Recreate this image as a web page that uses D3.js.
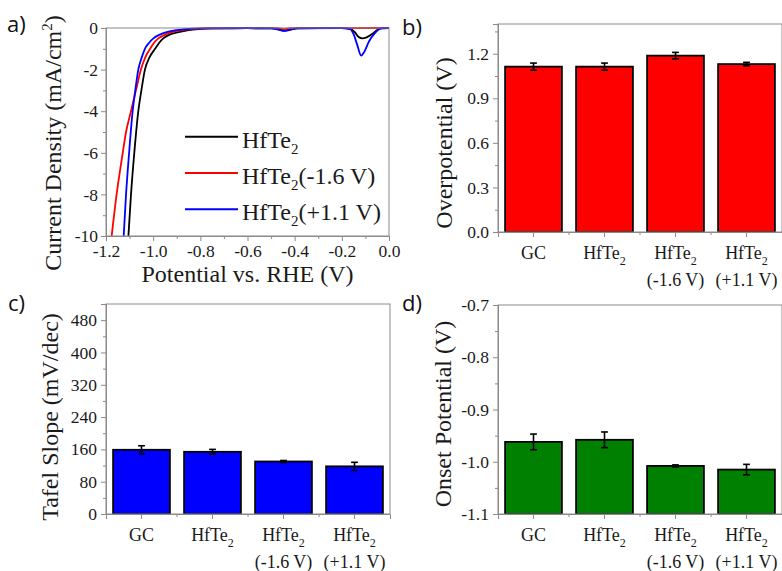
<!DOCTYPE html>
<html>
<head>
<meta charset="utf-8">
<script src="https://cdn.jsdelivr.net/npm/d3@7"></script>
<style>
  html, body { margin: 0; padding: 0; background: #fff; }
  svg { display: block; }
  text.serif { font-family: "Liberation Serif", "Times New Roman", serif; fill: #1a1a1a; }
  text.panel-label { font-family: "Open Sans", "Noto Sans", sans-serif; font-size: 22px; fill: #111; }
</style>
</head>
<body>
<svg id="fig" width="782" height="571"></svg>
<script>
// ---- Polarization curves (potential V vs RHE, current density mA/cm2) ----
const lsvHfTe2 = [
  [-1.105, -10], [-1.094, -8], [-1.080, -6], [-1.063, -4], [-1.050, -3], [-1.035, -2],
  [-1.015, -1.4], [-0.992, -1.0], [-0.975, -0.72], [-0.957, -0.5], [-0.930, -0.32],
  [-0.893, -0.2], [-0.850, -0.1], [-0.809, -0.05], [-0.750, -0.02], [-0.600, -0.01],
  [-0.500, -0.02], [-0.470, -0.06], [-0.445, -0.12], [-0.420, -0.08], [-0.390, -0.02],
  [-0.300, -0.01], [-0.200, -0.01], [-0.165, -0.03], [-0.145, -0.2], [-0.130, -0.42],
  [-0.112, -0.5], [-0.095, -0.45], [-0.070, -0.28], [-0.050, -0.1], [-0.035, -0.02], [0.0, 0.0]
];
const lsvNeg16 = [
  [-1.176, -10], [-1.155, -8], [-1.129, -6], [-1.115, -5], [-1.094, -4], [-1.073, -3],
  [-1.052, -2], [-1.033, -1.4], [-1.013, -1.0], [-0.997, -0.72], [-0.978, -0.5],
  [-0.950, -0.32], [-0.921, -0.2], [-0.880, -0.1], [-0.837, -0.05], [-0.780, -0.02],
  [-0.600, -0.01], [-0.470, -0.01], [-0.445, -0.05], [-0.420, -0.01], [-0.200, -0.005], [0.0, 0.0]
];
const lsvPos11 = [
  [-1.125, -10], [-1.115, -8], [-1.102, -6], [-1.087, -4], [-1.076, -3], [-1.063, -2],
  [-1.048, -1.4], [-1.035, -1.0], [-1.018, -0.72], [-0.999, -0.5], [-0.972, -0.32],
  [-0.943, -0.2], [-0.900, -0.1], [-0.865, -0.05], [-0.800, -0.02], [-0.600, -0.01],
  [-0.500, -0.02], [-0.470, -0.07], [-0.445, -0.14], [-0.420, -0.09], [-0.390, -0.02],
  [-0.200, -0.01], [-0.165, -0.05], [-0.150, -0.3], [-0.135, -0.8], [-0.118, -1.33],
  [-0.105, -1.15], [-0.085, -0.65], [-0.060, -0.25], [-0.040, -0.05], [-0.025, -0.01], [0.0, 0.0]
];
const lsvSeriesNames = ["HfTe2", "HfTe2(-1.6 V)", "HfTe2(+1.1 V)"];
const lsvColors = ["#000000", "#ff0000", "#0000ff"];
const lsvXTicks = [-1.2, -1.0, -0.8, -0.6, -0.4, -0.2, 0.0];
const lsvXMinor = [-1.1, -0.9, -0.7, -0.5, -0.3, -0.1];
const lsvYTicks = [-10, -8, -6, -4, -2, 0];
const lsvYMinor = [-9, -7, -5, -3, -1];

// ---- Electrode summaries ----
const categories = ["GC", "HfTe2", "HfTe2 (-1.6 V)", "HfTe2 (+1.1 V)"];

const overpotential = [1.113, 1.113, 1.187, 1.130];
const overpotentialErr = [0.024, 0.024, 0.022, 0.012];
const overpotentialTicks = [0.0, 0.3, 0.6, 0.9, 1.2];
const overpotentialMinor = [0.15, 0.45, 0.75, 1.05, 1.35];

const tafelSlope = [159, 154, 130, 118];
const tafelSlopeErr = [10, 6, 2.5, 10];
const tafelTicks = [0, 80, 160, 240, 320, 400, 480];
const tafelMinor = [40, 120, 200, 280, 360, 440, 520];

const onsetPotential = [-0.962, -0.958, -1.008, -1.015];
const onsetPotentialErr = [0.015, 0.015, 0.002, 0.010];
const onsetTicks = [-1.1, -1.0, -0.9, -0.8, -0.7];
const onsetMinor = [-1.05, -0.95, -0.85, -0.75];

const svg = d3.select("#fig");
const FRAME = "#8a8a8a";
const SERIF = "'Liberation Serif', 'Times New Roman', serif";

// Writes "HfTe2..." with the 2 as a subscript into a text selection
function chemLabel(sel, label, subSize) {
  const m = label.match(/^(.*?Te)2(.*)$/);
  if (!m) { sel.append("tspan").text(label); return; }
  sel.append("tspan").text(m[1]);
  sel.append("tspan").attr("font-size", subSize).attr("dy", 6).text("2");
  if (m[2]) sel.append("tspan").attr("dy", -6).text(m[2]);
}

function styleAxis(g, size) {
  g.attr("font-family", null).attr("font-size", null);
  g.selectAll(".domain").attr("stroke", FRAME).attr("stroke-width", 1);
  g.selectAll(".tick line").attr("stroke", FRAME).attr("stroke-width", 1);
  g.selectAll(".tick text")
    .style("font-family", SERIF)
    .style("font-size", (size || 17.5) + "px")
    .attr("fill", "#1a1a1a");
}

function frame(left, top, right, bottom) {
  svg.append("rect")
    .attr("x", left).attr("y", top)
    .attr("width", right - left).attr("height", bottom - top)
    .attr("fill", "none").attr("stroke", FRAME).attr("stroke-width", 1);
}

function yTitle(x, y, size) {
  return svg.append("text").attr("class", "serif")
    .attr("transform", `translate(${x},${y}) rotate(-90)`)
    .attr("text-anchor", "middle").attr("font-size", size);
}

// ---------------- Panel a: polarization curves ----------------
(function () {
  const L = 106, R = 389, T = 28, B = 236;
  const x = d3.scaleLinear().domain([-1.2, 0]).range([L, R]);
  const y = d3.scaleLinear().domain([-10, 0]).range([B, T]);

  svg.append("clipPath").attr("id", "clipA")
    .append("rect").attr("x", L).attr("y", T - 2).attr("width", R - L).attr("height", B - T + 2);

  const line = d3.line().x(d => x(d[0])).y(d => y(d[1])).curve(d3.curveMonotoneX);
  const curves = [lsvHfTe2, lsvNeg16, lsvPos11];
  svg.append("g").attr("clip-path", "url(#clipA)")
    .selectAll("path").data(curves).join("path")
    .attr("d", line).attr("fill", "none")
    .attr("stroke", (d, i) => lsvColors[i]).attr("stroke-width", 1.8);

  frame(L, T, R, B);

  const gx = svg.append("g").attr("transform", `translate(0,${B})`)
    .call(d3.axisBottom(x).tickValues(lsvXTicks).tickSize(5).tickPadding(4)
      .tickFormat(d => d.toFixed(1)));
  styleAxis(gx);
  const gxm = svg.append("g").attr("transform", `translate(0,${B})`)
    .call(d3.axisBottom(x).tickValues(lsvXMinor).tickSize(3).tickFormat(""));
  styleAxis(gxm);

  const gy = svg.append("g").attr("transform", `translate(${L},0)`)
    .call(d3.axisLeft(y).tickValues(lsvYTicks).tickSize(5).tickPadding(3)
      .tickFormat(d => String(d)));
  styleAxis(gy);
  const gym = svg.append("g").attr("transform", `translate(${L},0)`)
    .call(d3.axisLeft(y).tickValues(lsvYMinor).tickSize(3).tickFormat(""));
  styleAxis(gym);

  svg.append("text").attr("class", "serif")
    .attr("x", (L + R) / 2).attr("y", 282).attr("text-anchor", "middle")
    .attr("font-size", 24).text("Potential vs. RHE (V)");

  const yt = yTitle(61, 143, 24);
  yt.append("tspan").text("Current Density (mA/cm");
  yt.append("tspan").attr("font-size", 15).attr("dy", -9).text("2");
  yt.append("tspan").attr("dy", 9).text(")");

  // legend
  const rowY = d3.scalePoint().domain(lsvSeriesNames).range([136.7, 209.3]);
  const lg = svg.append("g");
  lsvSeriesNames.forEach((name, i) => {
    const ly = rowY(name);
    lg.append("line").attr("x1", 185).attr("x2", 238).attr("y1", ly).attr("y2", ly)
      .attr("stroke", lsvColors[i]).attr("stroke-width", 2);
    const t = lg.append("text").attr("class", "serif")
      .attr("x", 242).attr("y", ly + 11).attr("font-size", 24);
    chemLabel(t, name, 15);
  });

  svg.append("text").attr("class", "panel-label").attr("x", 7).attr("y", 32).text("a)");
})();

// ---------------- Bar panels b, c, d ----------------
function barPanel(o) {
  const x = d3.scaleBand().domain(categories).range([o.L, o.R])
    .paddingInner(0.2).paddingOuter(0.1);
  const y = d3.scaleLinear().domain(o.domain).range([o.B, o.T]);
  const base = y(o.domain[0]);
  const rows = categories.map((c, i) => ({ c, v: o.values[i], e: o.errs[i] }));

  svg.append("g").selectAll("rect").data(rows).join("rect")
    .attr("x", d => x(d.c)).attr("width", x.bandwidth())
    .attr("y", d => y(d.v)).attr("height", d => base - y(d.v))
    .attr("fill", o.fill).attr("stroke", "#000").attr("stroke-width", 1.8);

  const eg = svg.append("g").attr("stroke", "#000").attr("stroke-width", 1.6);
  rows.forEach(d => {
    const cx = x(d.c) + x.bandwidth() / 2;
    eg.append("line").attr("x1", cx).attr("x2", cx)
      .attr("y1", y(d.v - d.e)).attr("y2", y(d.v + d.e));
    [d.v - d.e, d.v + d.e].forEach(v => {
      eg.append("line").attr("x1", cx - 3.4).attr("x2", cx + 3.4)
        .attr("y1", y(v)).attr("y2", y(v));
    });
  });

  frame(o.L, o.T, o.R, o.B);

  // y axis with minor ticks
  const gy = svg.append("g").attr("transform", `translate(${o.L},0)`)
    .call(d3.axisLeft(y).tickValues(o.ticks).tickSize(5).tickPadding(4).tickFormat(o.fmt));
  styleAxis(gy);
  const gym = svg.append("g").attr("transform", `translate(${o.L},0)`)
    .call(d3.axisLeft(y).tickValues(o.minor.filter(v => v <= o.domain[1])).tickSize(3).tickFormat(""));
  styleAxis(gym);

  // x axis: major ticks at bar centres, minor ticks between bars
  const gx = svg.append("g").attr("transform", `translate(0,${o.B})`)
    .call(d3.axisBottom(x).tickSize(5).tickFormat(""));
  styleAxis(gx);
  const gapHalf = x.step() * x.paddingInner() / 2;
  const bounds = categories.slice(1).map(c => x(c) - gapHalf);
  svg.append("g").selectAll("line").data(bounds).join("line")
    .attr("x1", d => d).attr("x2", d => d).attr("y1", o.B).attr("y2", o.B + 3)
    .attr("stroke", FRAME);

  // category labels (two lines for the treated electrodes)
  categories.forEach(c => {
    const cx = x(c) + x.bandwidth() / 2;
    const parts = c.split(" ");
    const t = svg.append("text").attr("class", "serif")
      .attr("x", cx).attr("y", o.B + 27).attr("text-anchor", "middle").attr("font-size", 18);
    chemLabel(t, parts[0], 12);
    if (parts.length > 1) {
      svg.append("text").attr("class", "serif")
        .attr("x", cx).attr("y", o.B + 54).attr("text-anchor", "middle").attr("font-size", 18)
        .text(parts.slice(1).join(" "));
    }
  });

  yTitle(o.titleX, o.titleY, 24).text(o.title);
  svg.append("text").attr("class", "panel-label")
    .attr("x", o.labelX).attr("y", o.labelY).text(o.label);
}

barPanel({
  L: 498, R: 782, T: 24, B: 232, domain: [0, 1.4],
  ticks: overpotentialTicks, minor: overpotentialMinor, fmt: d => d.toFixed(1),
  values: overpotential, errs: overpotentialErr, fill: "#ff0000",
  title: "Overpotential (V)", titleX: 452, titleY: 143,
  label: "b)", labelX: 402, labelY: 35
});

barPanel({
  L: 106, R: 390, T: 304, B: 514, domain: [0, 520],
  ticks: tafelTicks, minor: tafelMinor, fmt: d => String(d),
  values: tafelSlope, errs: tafelSlopeErr, fill: "#0000ff",
  title: "Tafel Slope (mV/dec)", titleX: 58, titleY: 417,
  label: "c)", labelX: 8, labelY: 311
});

barPanel({
  L: 498, R: 782, T: 305, B: 514, domain: [-1.1, -0.7],
  ticks: onsetTicks, minor: onsetMinor, fmt: d => d.toFixed(1),
  values: onsetPotential, errs: onsetPotentialErr, fill: "#008000",
  title: "Onset Potential (V)", titleX: 451, titleY: 414,
  label: "d)", labelX: 402, labelY: 311
});
</script>
</body>
</html>
